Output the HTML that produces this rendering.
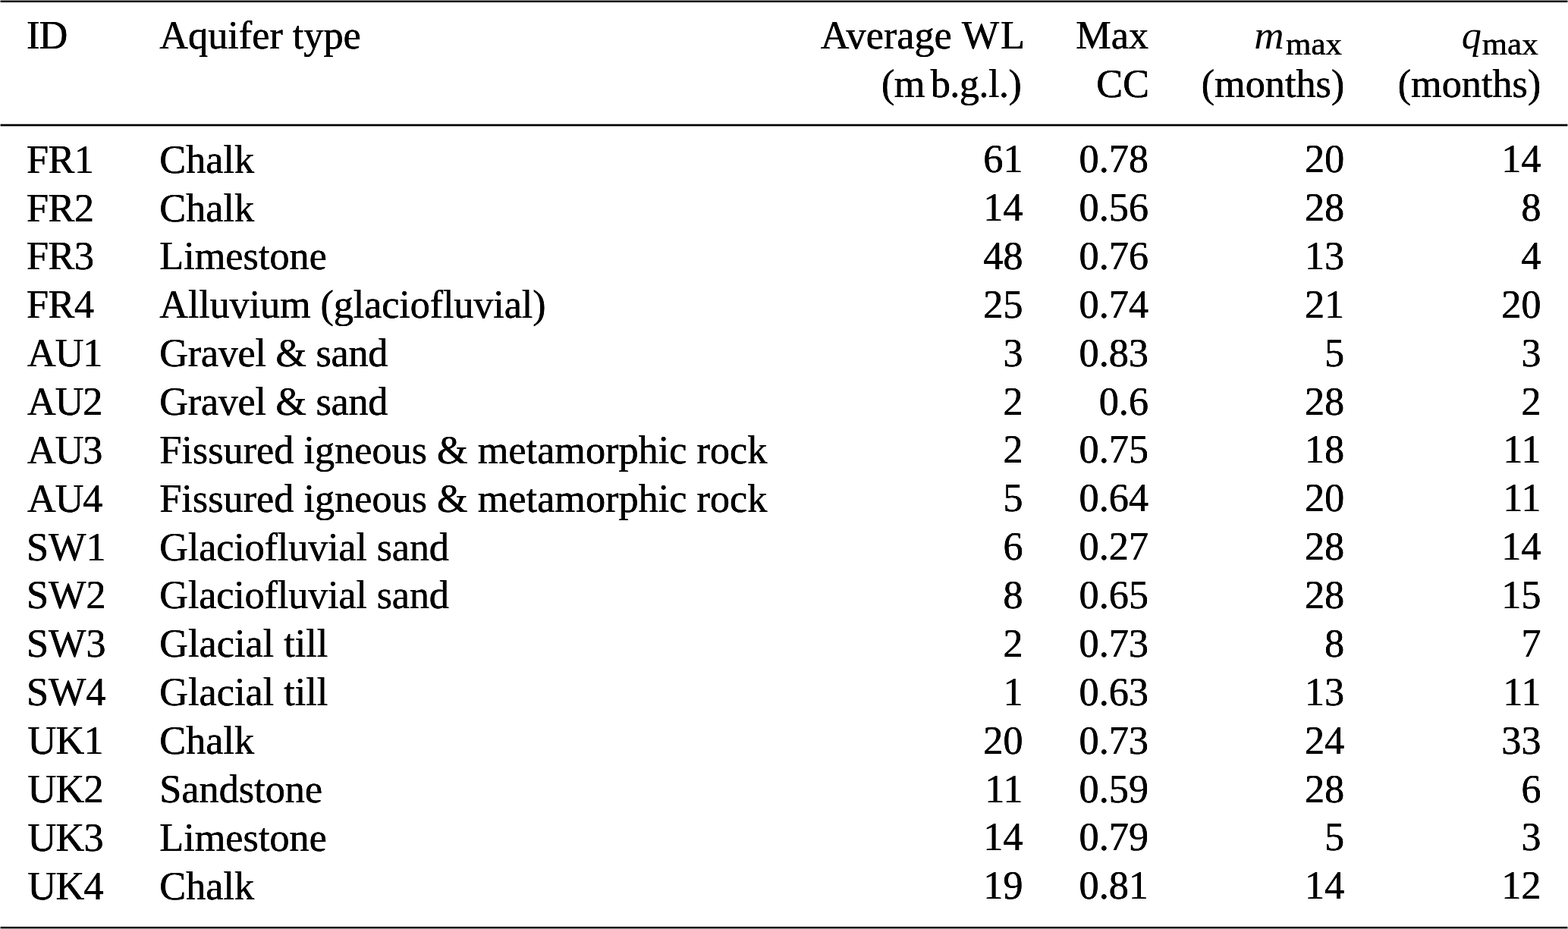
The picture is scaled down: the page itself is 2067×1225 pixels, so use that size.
<!DOCTYPE html>
<html lang="en"><head><meta charset="utf-8"><title>Table</title>
<style>
html,body{margin:0;padding:0;background:#fff;}
body{width:2067px;height:1225px;position:relative;overflow:hidden;
font-family:"Liberation Serif","Times New Roman",serif;font-size:52.26px;color:#000;}
.c{position:absolute;white-space:nowrap;line-height:60px;height:60px;text-shadow:0.2px 0 0 #000,-0.2px 0 0 #000;}
sub{font-size:43px;position:relative;top:8px;vertical-align:baseline;line-height:0;letter-spacing:0;}
i{font-style:italic;text-shadow:none;}
i.m{display:inline-block;transform:scaleX(1.045);transform-origin:100% 50%;}
.ts{letter-spacing:-2.6px;}
table{border-collapse:collapse;border-spacing:0;margin:0;padding:0;}
th,td{padding:0;margin:0;border:0;font-weight:normal;font-size:inherit;}
.rule{position:absolute;left:0;width:2067px;background:#000;}
.edge{position:absolute;top:0;width:1px;height:1225px;background:rgba(255,255,255,0.55);}
</style></head><body>
<div class="rule" style="top:0;height:1px;background:#949494"></div>
<div class="rule" style="top:1px;height:2px"></div>
<div class="rule" style="top:3px;height:1px;background:#e8e8e8"></div>
<div class="rule" style="top:163px;height:1px;background:#a8a8a8"></div>
<div class="rule" style="top:164px;height:2px"></div>
<div class="rule" style="top:166px;height:1px;background:#a0a0a0"></div>
<div class="rule" style="top:1221px;height:1px;background:#dcdcdc"></div>
<div class="rule" style="top:1222px;height:1px;background:#2a2a2a"></div>
<div class="rule" style="top:1223px;height:1px"></div>
<div class="rule" style="top:1224px;height:1px;background:#999"></div>
<div class="edge" style="left:0"></div><div class="edge" style="left:2066px"></div>
<table><thead><tr><th><span class="c" style="left:35.00px;top:15.86px;letter-spacing:-0.8px">ID</span></th><th><span class="c" style="left:210.30px;top:15.86px">Aquifer type</span></th><th><span class="c" style="right:714.30px;top:15.86px">Average <span style="letter-spacing:1.8px">WL</span></span><span class="c" style="right:720.75px;top:80.26px;letter-spacing:-0.55px">(m<span class="ts">&#8201;</span>b.g.l.)</span></th><th><span class="c" style="right:553.00px;top:15.86px">Max</span><span class="c" style="right:552.00px;top:80.26px">CC</span></th><th><span class="c" style="right:298.00px;top:15.86px"><i class="m">m</i><sub style="margin-left:2.3px">max</sub></span><span class="c" style="right:294.70px;top:80.26px">(months)</span></th><th><span class="c" style="right:39.30px;top:15.86px"><i>q</i><sub style="margin-left:0.9px">max</sub></span><span class="c" style="right:35.70px;top:80.26px">(months)</span></th></tr></thead><tbody>
<tr><td><span class="c" style="left:35.00px;top:179.66px;letter-spacing:-0.5px">FR1</span></td><td><span class="c" style="left:210.30px;top:179.66px">Chalk</span></td><td><span class="c" style="right:718.50px;top:179.26px">61</span></td><td><span class="c" style="right:553.00px;top:179.26px">0.78</span></td><td><span class="c" style="right:294.80px;top:179.26px">20</span></td><td><span class="c" style="right:35.50px;top:179.26px">14</span></td></tr>
<tr><td><span class="c" style="left:35.00px;top:243.53px;letter-spacing:-0.5px">FR2</span></td><td><span class="c" style="left:210.30px;top:243.53px">Chalk</span></td><td><span class="c" style="right:718.50px;top:243.13px">14</span></td><td><span class="c" style="right:553.00px;top:243.13px">0.56</span></td><td><span class="c" style="right:294.80px;top:243.13px">28</span></td><td><span class="c" style="right:35.50px;top:243.13px">8</span></td></tr>
<tr><td><span class="c" style="left:35.00px;top:307.40px;letter-spacing:-0.5px">FR3</span></td><td><span class="c" style="left:210.30px;top:307.40px">Limestone</span></td><td><span class="c" style="right:718.50px;top:307.00px">48</span></td><td><span class="c" style="right:553.00px;top:307.00px">0.76</span></td><td><span class="c" style="right:294.80px;top:307.00px">13</span></td><td><span class="c" style="right:35.50px;top:307.00px">4</span></td></tr>
<tr><td><span class="c" style="left:35.00px;top:371.27px;letter-spacing:-0.5px">FR4</span></td><td><span class="c" style="left:210.30px;top:371.27px;letter-spacing:-0.13px">Alluvium (glaciofluvial)</span></td><td><span class="c" style="right:718.50px;top:370.87px">25</span></td><td><span class="c" style="right:553.00px;top:370.87px">0.74</span></td><td><span class="c" style="right:294.80px;top:370.87px">21</span></td><td><span class="c" style="right:35.50px;top:370.87px">20</span></td></tr>
<tr><td><span class="c" style="left:36.00px;top:435.14px;letter-spacing:-1.1px">AU1</span></td><td><span class="c" style="left:210.30px;top:435.14px;letter-spacing:-0.3px">Gravel &amp; sand</span></td><td><span class="c" style="right:718.50px;top:434.74px">3</span></td><td><span class="c" style="right:553.00px;top:434.74px">0.83</span></td><td><span class="c" style="right:294.80px;top:434.74px">5</span></td><td><span class="c" style="right:35.50px;top:434.74px">3</span></td></tr>
<tr><td><span class="c" style="left:36.00px;top:499.01px;letter-spacing:-1.1px">AU2</span></td><td><span class="c" style="left:210.30px;top:499.01px;letter-spacing:-0.3px">Gravel &amp; sand</span></td><td><span class="c" style="right:718.50px;top:498.61px">2</span></td><td><span class="c" style="right:553.00px;top:498.61px">0.6</span></td><td><span class="c" style="right:294.80px;top:498.61px">28</span></td><td><span class="c" style="right:35.50px;top:498.61px">2</span></td></tr>
<tr><td><span class="c" style="left:36.00px;top:562.88px;letter-spacing:-1.1px">AU3</span></td><td><span class="c" style="left:210.30px;top:562.88px">Fissured igneous &amp; metamorphic rock</span></td><td><span class="c" style="right:718.50px;top:562.48px">2</span></td><td><span class="c" style="right:553.00px;top:562.48px">0.75</span></td><td><span class="c" style="right:294.80px;top:562.48px">18</span></td><td><span class="c" style="right:35.50px;top:562.48px">11</span></td></tr>
<tr><td><span class="c" style="left:36.00px;top:626.75px;letter-spacing:-1.1px">AU4</span></td><td><span class="c" style="left:210.30px;top:626.75px">Fissured igneous &amp; metamorphic rock</span></td><td><span class="c" style="right:718.50px;top:626.35px">5</span></td><td><span class="c" style="right:553.00px;top:626.35px">0.64</span></td><td><span class="c" style="right:294.80px;top:626.35px">20</span></td><td><span class="c" style="right:35.50px;top:626.35px">11</span></td></tr>
<tr><td><span class="c" style="left:35.00px;top:690.62px">SW1</span></td><td><span class="c" style="left:210.30px;top:690.62px;letter-spacing:-0.17px">Glaciofluvial sand</span></td><td><span class="c" style="right:718.50px;top:690.22px">6</span></td><td><span class="c" style="right:553.00px;top:690.22px">0.27</span></td><td><span class="c" style="right:294.80px;top:690.22px">28</span></td><td><span class="c" style="right:35.50px;top:690.22px">14</span></td></tr>
<tr><td><span class="c" style="left:35.00px;top:754.49px">SW2</span></td><td><span class="c" style="left:210.30px;top:754.49px;letter-spacing:-0.17px">Glaciofluvial sand</span></td><td><span class="c" style="right:718.50px;top:754.09px">8</span></td><td><span class="c" style="right:553.00px;top:754.09px">0.65</span></td><td><span class="c" style="right:294.80px;top:754.09px">28</span></td><td><span class="c" style="right:35.50px;top:754.09px">15</span></td></tr>
<tr><td><span class="c" style="left:35.00px;top:818.36px">SW3</span></td><td><span class="c" style="left:210.30px;top:818.36px">Glacial till</span></td><td><span class="c" style="right:718.50px;top:817.96px">2</span></td><td><span class="c" style="right:553.00px;top:817.96px">0.73</span></td><td><span class="c" style="right:294.80px;top:817.96px">8</span></td><td><span class="c" style="right:35.50px;top:817.96px">7</span></td></tr>
<tr><td><span class="c" style="left:35.00px;top:882.23px">SW4</span></td><td><span class="c" style="left:210.30px;top:882.23px">Glacial till</span></td><td><span class="c" style="right:718.50px;top:881.83px">1</span></td><td><span class="c" style="right:553.00px;top:881.83px">0.63</span></td><td><span class="c" style="right:294.80px;top:881.83px">13</span></td><td><span class="c" style="right:35.50px;top:881.83px">11</span></td></tr>
<tr><td><span class="c" style="left:36.50px;top:946.10px;letter-spacing:-0.7px">UK1</span></td><td><span class="c" style="left:210.30px;top:946.10px">Chalk</span></td><td><span class="c" style="right:718.50px;top:945.70px">20</span></td><td><span class="c" style="right:553.00px;top:945.70px">0.73</span></td><td><span class="c" style="right:294.80px;top:945.70px">24</span></td><td><span class="c" style="right:35.50px;top:945.70px">33</span></td></tr>
<tr><td><span class="c" style="left:36.50px;top:1009.97px;letter-spacing:-0.7px">UK2</span></td><td><span class="c" style="left:210.30px;top:1009.97px">Sandstone</span></td><td><span class="c" style="right:718.50px;top:1009.57px">11</span></td><td><span class="c" style="right:553.00px;top:1009.57px">0.59</span></td><td><span class="c" style="right:294.80px;top:1009.57px">28</span></td><td><span class="c" style="right:35.50px;top:1009.57px">6</span></td></tr>
<tr><td><span class="c" style="left:36.50px;top:1073.84px;letter-spacing:-0.7px">UK3</span></td><td><span class="c" style="left:210.30px;top:1073.84px">Limestone</span></td><td><span class="c" style="right:718.50px;top:1073.44px">14</span></td><td><span class="c" style="right:553.00px;top:1073.44px">0.79</span></td><td><span class="c" style="right:294.80px;top:1073.44px">5</span></td><td><span class="c" style="right:35.50px;top:1073.44px">3</span></td></tr>
<tr><td><span class="c" style="left:36.50px;top:1137.71px;letter-spacing:-0.7px">UK4</span></td><td><span class="c" style="left:210.30px;top:1137.71px">Chalk</span></td><td><span class="c" style="right:718.50px;top:1137.31px">19</span></td><td><span class="c" style="right:553.00px;top:1137.31px">0.81</span></td><td><span class="c" style="right:294.80px;top:1137.31px">14</span></td><td><span class="c" style="right:35.50px;top:1137.31px">12</span></td></tr>
</tbody></table>
</body></html>
